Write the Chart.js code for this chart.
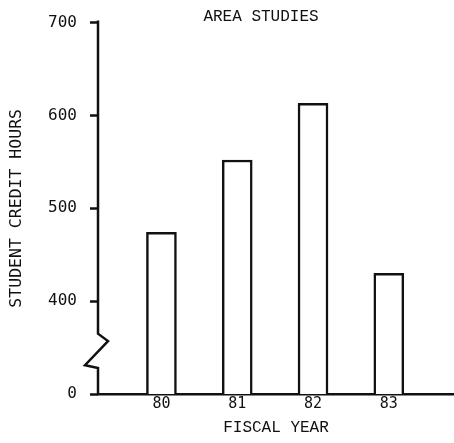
<!DOCTYPE html>
<html>
<head>
<meta charset="utf-8">
<script src="https://cdn.jsdelivr.net/npm/chart.js@4.4.0/dist/chart.umd.min.js"></script>
<style>
  html, body { margin: 0; padding: 0; background: #fff; }
</style>
</head>
<body>
<canvas id="chart" width="454" height="443"></canvas>
<script>
// fiscal years and student credit hours
const years = [80, 81, 82, 83];
const creditHours = [474, 552, 613, 430];
// the axis is broken below 400, so the bottom of the scale (300) is labelled 0
const yTickValues = [300, 400, 500, 600, 700];
const yTickLabels = ['0', '400', '500', '600', '700'];

const ink = '#111';
const mono = '"Liberation Mono", monospace';
const sans = '"DejaVu Sans Mono", monospace';

// draws the y axis line with its zigzag break, plus the header text
const axisBreak = {
  id: 'axisBreak',
  afterDraw(chart) {
    const { ctx, chartArea } = chart;
    const y = chart.scales.y;
    const x0 = chartArea.left;
    const py = v => y.getPixelForValue(v);
    ctx.save();
    ctx.strokeStyle = ink;
    ctx.lineWidth = 2.5;
    ctx.beginPath();
    ctx.moveTo(x0, py(700) - 2);
    ctx.lineTo(x0, py(365));
    ctx.lineTo(x0 + 10, py(357));
    ctx.lineTo(x0 - 13, py(331));
    ctx.lineTo(x0, py(328));
    ctx.lineTo(x0, py(300) + 1);
    ctx.stroke();

    ctx.fillStyle = ink;
    ctx.font = '16px ' + mono;
    ctx.textAlign = 'center';
    ctx.textBaseline = 'middle';
    ctx.fillText('AREA STUDIES', x0 + 163, 17);
    ctx.restore();
  }
};

new Chart(document.getElementById('chart'), {
  type: 'bar',
  data: {
    datasets: [{
      data: years.map((yr, i) => ({ x: yr, y: creditHours[i] })),
      backgroundColor: '#fff',
      borderColor: ink,
      borderWidth: 2.5,
      barThickness: 30,
    }]
  },
  options: {
    responsive: false,
    animation: false,
    devicePixelRatio: 1,
    layout: { padding: { top: 22, left: 0, right: 0, bottom: 0 } },
    plugins: {
      legend: { display: false },
      tooltip: { enabled: false },
    },
    scales: {
      x: {
        type: 'linear',
        offset: false,
        min: 79.163,
        max: 83.86,
        afterBuildTicks: s => { s.ticks = years.map(v => ({ value: v })); },
        afterFit: s => { s.height = 49; },
        ticks: {
          callback: v => String(v),
          font: { family: sans, size: 15 },
          color: ink,
          padding: 1,
          maxRotation: 0,
        },
        grid: { offset: false, drawOnChartArea: false, drawTicks: false },
        border: { color: ink, width: 2.5 },
        title: {
          display: true,
          text: 'FISCAL YEAR',
          font: { family: mono, size: 16 },
          color: ink,
          padding: { top: 0, bottom: 6 },
        },
      },
      y: {
        type: 'linear',
        min: 300,
        max: 700,
        afterBuildTicks: s => { s.ticks = yTickValues.map(v => ({ value: v })); },
        afterFit: s => { s.width = 98; },
        ticks: {
          callback: v => yTickLabels[yTickValues.indexOf(v)],
          font: { family: sans, size: 16 },
          color: ink,
          padding: 13,
        },
        grid: {
          drawOnChartArea: false,
          drawTicks: true,
          tickLength: 8,
          tickWidth: 2.5,
          tickColor: ink,
        },
        border: { display: false },
        title: {
          display: true,
          text: 'STUDENT CREDIT HOURS',
          font: { family: sans, size: 16.5 },
          color: ink,
          padding: { top: 7, bottom: 0 },
        },
      },
    },
  },
  plugins: [axisBreak],
});
</script>
</body>
</html>
